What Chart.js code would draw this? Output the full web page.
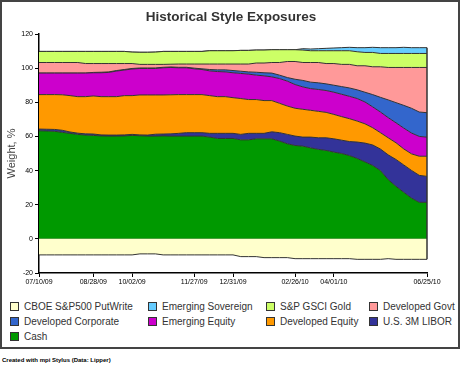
<!DOCTYPE html>
<html>
<head>
<meta charset="utf-8">
<title>Historical Style Exposures</title>
<script src="https://cdn.jsdelivr.net/npm/chart.js@4.4.0/dist/chart.umd.min.js"></script>
<style>
  body { margin: 0; background: #fff; font-family: Arial, "Liberation Sans", sans-serif; }
  #wrap { position: relative; width: 462px; height: 367px; overflow: hidden; }
  #frame { position: absolute; left: 0; top: 0; width: 456px; height: 345px; border: 2px solid #444; }
  #chart { position: absolute; left: 0; top: 0; }
  #title { position: absolute; left: 0; top: 8px; width: 462px; text-align: center; font-size: 13.5px; font-weight: bold; color: #333; line-height: 18px; }
  .item { position: absolute; font-size: 10px; color: #333; white-space: nowrap; line-height: 12px; }
  .box { display: inline-block; width: 7px; height: 7px; border: 1px solid #333; margin-right: 5px; vertical-align: -1px; }
  #credit { position: absolute; left: 2px; top: 357px; font-size: 6px; font-weight: bold; color: #000; }
</style>
</head>
<body>
<div id="wrap">
  <div id="frame"></div>
  <canvas id="chart" width="462" height="300"></canvas>
  <div id="title">Historical Style Exposures</div>
  <div id="legend"></div>
  <div id="credit">Created with mpi Stylus (Data: Lipper)</div>
</div>
<script>
// weekly observation dates
const dates = [
  '07/10/09', '07/17/09', '07/24/09', '07/31/09', '08/07/09', '08/14/09', '08/21/09', '08/28/09',
  '09/04/09', '09/11/09', '09/18/09', '09/25/09', '10/02/09', '10/09/09', '10/16/09', '10/23/09',
  '10/30/09', '11/06/09', '11/13/09', '11/20/09', '11/27/09', '12/04/09', '12/11/09', '12/18/09',
  '12/24/09', '12/31/09', '01/08/10', '01/15/10', '01/22/10', '01/29/10', '02/05/10', '02/12/10',
  '02/19/10', '02/26/10', '03/05/10', '03/12/10', '03/19/10', '03/26/10', '04/01/10', '04/09/10',
  '04/16/10', '04/23/10', '04/30/10', '05/07/10', '05/14/10', '05/21/10', '05/28/10', '06/04/10',
  '06/11/10', '06/18/10', '06/25/10'
];

// dates that get a tick label on the x axis
const tickDates = ['07/10/09', '08/28/09', '10/02/09', '11/27/09', '12/31/09', '02/26/10', '04/01/10', '06/25/10'];

const yMin = -20, yMax = 120, yStep = 20;

// weights, %
const putWrite = [
  -9.4, -9.4, -9.4, -9.4, -9.4, -9.4, -9.4, -9.4, -9.4, -9.4,
  -9.4, -9.4, -9.4, -8.8, -8.8, -8.8, -9.4, -9.4, -9.4, -9.4,
  -9.4, -9.4, -9.4, -9.4, -9.4, -9.4, -10.4, -10.4, -10.4, -11.0,
  -11.0, -11.0, -11.0, -11.6, -11.6, -11.6, -11.6, -11.6, -11.6, -11.6,
  -11.6, -12.0, -12.0, -12.0, -12.0, -11.6, -12.0, -12.0, -12.0, -12.0,
  -12.0
];
const cash = [
  63.3, 63.2, 63.0, 62.4, 61.8, 61.2, 60.8, 60.6, 60.3, 60.2,
  60.2, 60.3, 60.6, 60.4, 60.2, 60.2, 60.3, 60.2, 60.2, 60.2,
  60.2, 60.2, 59.6, 58.8, 58.8, 58.8, 58.0, 58.0, 58.6, 58.6,
  58.6, 57.3, 55.7, 54.7, 54.3, 53.3, 52.4, 51.8, 50.8, 50.0,
  48.8, 47.1, 45.1, 43.0, 40.0, 34.7, 30.8, 27.3, 23.9, 21.4,
  21.4
];
const libor = [
  1.0, 1.0, 1.1, 1.2, 0.8, 0.7, 0.7, 0.8, 0.6, 0.6,
  0.6, 0.6, 0.6, 0.5, 0.6, 1.1, 1.1, 1.3, 1.6, 2.0,
  2.0, 2.0, 2.2, 3.0, 3.0, 3.0, 3.2, 3.8, 3.2, 3.2,
  4.1, 4.9, 5.5, 5.5, 5.3, 6.3, 6.8, 7.4, 7.8, 7.8,
  8.2, 9.6, 11.0, 12.0, 12.6, 14.5, 15.7, 16.0, 16.2, 15.8,
  15.2
];
const devEquity = [
  20.2, 20.3, 20.4, 20.8, 21.3, 21.4, 21.8, 22.3, 22.4, 22.5,
  22.5, 23.0, 22.7, 23.4, 23.5, 23.0, 22.9, 22.9, 22.7, 22.3,
  22.3, 22.3, 22.1, 21.5, 21.5, 20.9, 21.0, 19.8, 19.8, 19.2,
  18.3, 17.2, 16.6, 16.3, 16.3, 15.7, 15.5, 14.9, 14.3, 13.8,
  13.4, 12.3, 11.3, 10.1, 9.6, 10.0, 9.8, 9.4, 9.7, 11.2,
  11.8
];
const emEquity = [
  12.6, 12.6, 12.6, 12.7, 13.2, 13.8, 13.8, 13.6, 14.0, 14.2,
  15.0, 15.0, 15.6, 15.5, 15.5, 15.5, 15.9, 16.0, 15.7, 15.7,
  15.1, 14.7, 14.5, 14.7, 14.5, 14.6, 14.7, 14.9, 14.3, 14.5,
  13.9, 14.5, 14.6, 13.9, 13.1, 12.7, 12.8, 12.8, 13.0, 13.1,
  13.1, 13.2, 12.8, 12.2, 12.1, 11.8, 11.7, 12.2, 12.2, 11.6,
  11.2
];
const devCorporate = [
  0, 0, 0, 0, 0, 0, 0, 0.2, 0.3, 0.3,
  0.3, 0.3, 0.3, 0.3, 0.3, 0.3, 0.3, 0.3, 0.3, 0.3,
  0.4, 0.4, 0.8, 1.0, 1.2, 1.3, 1.3, 1.3, 1.7, 1.8,
  2.2, 2.0, 2.1, 3.1, 3.8, 3.8, 3.9, 3.9, 4.1, 4.5,
  4.9, 5.1, 5.7, 7.2, 8.6, 10.4, 11.8, 13.3, 14.5, 14.3,
  14.3
];
const devGovt = [
  6.2, 6.2, 6.2, 6.2, 6.2, 6.2, 5.6, 5.2, 5.1, 4.9,
  4.1, 3.5, 2.9, 2.1, 2.1, 2.1, 1.7, 1.6, 1.9, 1.9,
  2.4, 2.8, 3.2, 3.4, 3.4, 3.8, 4.2, 4.6, 5.4, 5.7,
  6.2, 7.4, 9.4, 10.4, 10.5, 11.5, 11.9, 11.9, 12.7, 13.0,
  13.8, 14.1, 15.5, 16.3, 17.9, 19.0, 20.6, 22.2, 23.9, 26.1,
  26.5
];
const gold = [
  6.5, 6.5, 6.5, 6.5, 6.5, 6.5, 7.1, 7.1, 7.1, 7.1,
  7.1, 7.1, 6.7, 7.1, 7.1, 7.2, 7.6, 7.5, 7.4, 7.4,
  7.4, 7.4, 7.8, 7.8, 7.8, 7.8, 8.0, 8.0, 7.6, 7.6,
  7.5, 7.5, 6.9, 6.9, 7.3, 6.9, 6.9, 7.5, 7.5, 8.0,
  8.0, 8.2, 7.8, 8.4, 7.8, 8.2, 8.2, 8.2, 8.2, 8.2,
  8.2
];
const emSovereign = [
  0, 0, 0, 0, 0, 0, 0, 0, 0, 0,
  0, 0, 0, 0, 0, 0, 0, 0, 0, 0,
  0, 0, 0, 0, 0, 0, 0, 0, 0, 0,
  0, 0, 0, 0, 0.8, 1.0, 1.2, 1.4, 1.6, 1.8,
  2.0, 2.4, 2.8, 3.0, 3.4, 3.4, 3.4, 3.6, 3.4, 3.4,
  3.4
];

// stacking order, bottom to top (PutWrite sits below zero on its own)
const series = [
  { label: 'CBOE S&P500 PutWrite', data: putWrite, color: '#FFFFCC', stack: 'neg', fill: 'origin' },
  { label: 'Cash', data: cash, color: '#009900', stack: 'pos', fill: 'origin' },
  { label: 'U.S. 3M LIBOR', data: libor, color: '#333399', stack: 'pos', fill: '-1' },
  { label: 'Developed Equity', data: devEquity, color: '#FF9900', stack: 'pos', fill: '-1' },
  { label: 'Emerging Equity', data: emEquity, color: '#CC00CC', stack: 'pos', fill: '-1' },
  { label: 'Developed Corporate', data: devCorporate, color: '#3366CC', stack: 'pos', fill: '-1' },
  { label: 'Developed Govt', data: devGovt, color: '#FF9999', stack: 'pos', fill: '-1' },
  { label: 'S&P GSCI Gold', data: gold, color: '#CCFF66', stack: 'pos', fill: '-1' },
  { label: 'Emerging Sovereign', data: emSovereign, color: '#66CCFF', stack: 'pos', fill: '-1' }
];

// legend reads PutWrite first, then the stack from the top down
const legendOrder = [
  'CBOE S&P500 PutWrite', 'Emerging Sovereign', 'S&P GSCI Gold', 'Developed Govt',
  'Developed Corporate', 'Emerging Equity', 'Developed Equity', 'U.S. 3M LIBOR', 'Cash'
];

const datasets = series.map(s => ({
  label: s.label,
  data: s.data,
  stack: s.stack,
  fill: s.fill,
  backgroundColor: s.color,
  borderColor: '#333333',
  borderWidth: 1,
  pointRadius: 0,
  tension: 0
}));

// closes the stacked areas with a vertical edge at the last date
const rightEdge = {
  id: 'rightEdge',
  afterDatasetsDraw(chart) {
    const top = chart.getDatasetMeta(chart.data.datasets.length - 1).data;
    const bottom = chart.getDatasetMeta(0).data;
    const last = top.length - 1;
    const ctx = chart.ctx;
    ctx.save();
    ctx.strokeStyle = '#333';
    ctx.lineWidth = 1.5;
    ctx.beginPath();
    ctx.moveTo(top[last].x, top[last].y);
    ctx.lineTo(bottom[last].x, bottom[last].y);
    ctx.stroke();
    ctx.restore();
  }
};

new Chart(document.getElementById('chart'), {
  type: 'line',
  data: { labels: dates, datasets },
  plugins: [rightEdge],
  options: {
    responsive: false,
    animation: false,
    layout: { padding: { left: 0, right: 35, top: 34, bottom: 0 } },
    plugins: {
      legend: { display: false },
      tooltip: { enabled: false }
    },
    scales: {
      x: {
        grid: { drawOnChartArea: false, tickLength: 4, tickColor: '#000' },
        border: { color: '#000', width: 1.5 },
        ticks: {
          autoSkip: false,
          maxRotation: 0,
          padding: 1,
          color: '#000',
          font: { family: 'Arial', size: 7 },
          callback: function (value) {
            const lab = this.getLabelForValue(value);
            return tickDates.includes(lab) ? lab : null;
          }
        },
        afterFit: (scale) => { scale.height = 27; }
      },
      y: {
        stacked: true,
        min: yMin,
        max: yMax,
        z: 1,
        grid: {
          color: (ctx) => ctx.tick && ctx.tick.value === 0 ? '#333' : 'rgba(0,0,0,0)',
          tickColor: '#000',
          tickLength: 4
        },
        border: { color: '#000', width: 1.5 },
        ticks: { stepSize: yStep, padding: 2, color: '#000', font: { family: 'Arial', size: 7 } },
        title: {
          display: true,
          text: 'Weight, %',
          color: '#444',
          font: { family: 'Arial', size: 11 },
          padding: { top: 5, bottom: 0 }
        },
        afterFit: (scale) => { scale.width = 39; }
      }
    }
  }
});

// HTML legend, 4 columns
const colX = [10, 148, 266, 369];
const rowY = [301, 316, 331];
const legend = document.getElementById('legend');
legendOrder.forEach((name, i) => {
  const s = series.find(d => d.label === name);
  const el = document.createElement('div');
  el.className = 'item';
  el.style.left = colX[i % 4] + 'px';
  el.style.top = rowY[Math.floor(i / 4)] + 'px';
  el.innerHTML = '<span class="box" style="background:' + s.color + '"></span>';
  el.appendChild(document.createTextNode(name));
  legend.appendChild(el);
});
</script>
</body>
</html>
